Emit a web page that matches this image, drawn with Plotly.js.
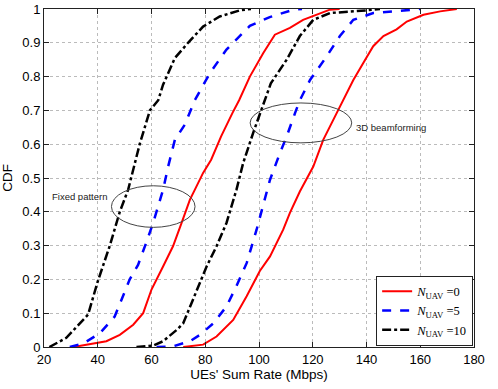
<!DOCTYPE html>
<html>
<head>
<meta charset="utf-8">
<script src="https://cdn.plot.ly/plotly-3.0.1.min.js"></script>
<style>
  html, body { margin: 0; padding: 0; background: #fff; }
  #myDiv { width: 498px; height: 389px; }
</style>
</head>
<body>
<div id="myDiv"></div>
<script>
// fixed antenna pattern curves (left group)
var fixed0X = [31, 38.3, 43.2, 48.2, 53.2, 56.9, 60, 64.3, 68, 71.2, 74.3, 76.1, 79.2, 82.2, 85.9, 90.1, 92.6, 96.6, 101.6, 105.9, 111.5, 116.4, 122.7, 126.4, 130];
var fixed0Y = [0, 0.01, 0.017, 0.036, 0.066, 0.1, 0.17, 0.238, 0.298, 0.367, 0.436, 0.465, 0.515, 0.554, 0.623, 0.692, 0.73, 0.8, 0.87, 0.924, 0.944, 0.968, 0.988, 0.998, 1];

var fixed5X = [29.6, 34.5, 40.7, 46.3, 51.9, 55, 58.1, 60.6, 64.3, 66.2, 68.7, 72.4, 76.1, 81.7, 87.9, 92.9, 96.6, 104, 112.8, 116];
var fixed5Y = [0, 0.01, 0.04, 0.09, 0.2, 0.243, 0.31, 0.367, 0.465, 0.534, 0.613, 0.658, 0.73, 0.81, 0.88, 0.92, 0.95, 0.976, 0.998, 1];

var fixed10X = [22, 28.3, 36.4, 40, 44.5, 48.2, 51.3, 55.6, 59.4, 62.5, 64.3, 68.7, 73.6, 79.2, 85.4, 92.9, 97];
var fixed10Y = [0, 0.027, 0.096, 0.194, 0.3, 0.4, 0.465, 0.6, 0.7, 0.73, 0.776, 0.855, 0.9, 0.948, 0.978, 0.996, 1];

// 3D beamforming curves (right group)
var bf0X = [71.8, 79.2, 84.2, 90.4, 95.4, 100.3, 104.1, 109, 111.5, 115.2, 120.2, 123.9, 128.9, 131.4, 135.1, 138.8, 142.5, 146.3, 151.2, 155, 161.2, 167.4, 173.6];
var bf0Y = [0, 0.007, 0.031, 0.08, 0.15, 0.225, 0.268, 0.347, 0.397, 0.46, 0.534, 0.613, 0.692, 0.73, 0.79, 0.84, 0.89, 0.92, 0.94, 0.963, 0.983, 0.993, 1];

var bf5X = [61.9, 68, 74.3, 78, 83, 87.9, 91.6, 95.4, 99.1, 101, 104.1, 107.8, 110.3, 113.4, 115.2, 119, 125.2, 130.1, 135.1, 142.5, 155, 160];
var bf5Y = [0, 0.002, 0.017, 0.036, 0.07, 0.12, 0.18, 0.248, 0.347, 0.406, 0.495, 0.574, 0.623, 0.692, 0.73, 0.79, 0.86, 0.92, 0.968, 0.988, 0.998, 1];

var bf10X = [54.4, 60.6, 64.3, 69.3, 71.8, 75.5, 78, 80.5, 84.2, 87.9, 91.6, 94.1, 97.8, 101, 104.4, 110.3, 115.2, 120.2, 126.4, 140, 145];
var bf10Y = [0, 0.004, 0.017, 0.05, 0.07, 0.14, 0.19, 0.238, 0.298, 0.367, 0.465, 0.544, 0.633, 0.702, 0.78, 0.85, 0.92, 0.968, 0.988, 0.996, 1];

var names = ['<i>N</i><sub>UAV</sub> =0', '<i>N</i><sub>UAV</sub> =5', '<i>N</i><sub>UAV</sub> =10'];
var colors = ['#ff0000', '#0000ff', '#000000'];
var dashes = ['solid', 'dash', 'dashdot'];

var groups = [[fixed0X, fixed0Y], [fixed5X, fixed5Y], [fixed10X, fixed10Y]];
var groups3d = [[bf0X, bf0Y], [bf5X, bf5Y], [bf10X, bf10Y]];

var data = [];
for (var i = 0; i < 3; i++) {
  data.push({
    x: groups[i][0], y: groups[i][1], type: 'scatter', mode: 'lines',
    name: names[i], legendgroup: 'g' + i,
    line: {color: colors[i], dash: dashes[i], width: i == 0 ? 2 : 2.5}
  });
}
for (var i = 0; i < 3; i++) {
  data.push({
    x: groups3d[i][0], y: groups3d[i][1], type: 'scatter', mode: 'lines',
    name: names[i], legendgroup: 'g' + i, showlegend: false,
    line: {color: colors[i], dash: dashes[i], width: i == 0 ? 2 : 2.5}
  });
}

var axisStyle = {
  showline: true, linecolor: '#222', linewidth: 1, mirror: 'ticks',
  ticks: 'inside', ticklen: 5, tickcolor: '#222',
  showgrid: true, gridcolor: '#bbb', griddash: 'dot', gridwidth: 1,
  zeroline: false, tickfont: {size: 13, color: '#000'}
};

var layout = {
  width: 498, height: 389,
  margin: {l: 44, r: 24, t: 9, b: 42},
  font: {family: 'Liberation Sans, Arial, sans-serif', color: '#000'},
  plot_bgcolor: '#fff', paper_bgcolor: '#fff',
  xaxis: Object.assign({}, axisStyle, {
    range: [20, 180], tickvals: [20, 40, 60, 80, 100, 120, 140, 160, 180],
    title: {text: "UEs' Sum Rate (Mbps)", font: {size: 13.5}, standoff: 2}
  }),
  yaxis: Object.assign({}, axisStyle, {
    range: [0, 1], tickvals: [0, 0.1, 0.2, 0.3, 0.4, 0.5, 0.6, 0.7, 0.8, 0.9, 1],
    ticktext: ['0', '0.1', '0.2', '0.3', '0.4', '0.5', '0.6', '0.7', '0.8', '0.9', '1'],
    title: {text: 'CDF', font: {size: 13.5}, standoff: 6}
  }),
  legend: {
    x: 0.998, y: 0.004, xanchor: 'right', yanchor: 'bottom',
    bgcolor: '#fff', bordercolor: '#222', borderwidth: 1,
    font: {family: 'Liberation Serif, Times New Roman, serif', size: 12.5},
    tracegroupgap: 0, itemwidth: 30
  },
  shapes: [
    {type: 'circle', xref: 'x', yref: 'y', x0: 45.1, x1: 76.2, y0: 0.354, y1: 0.477,
     line: {color: '#444', width: 1}},
    {type: 'circle', xref: 'x', yref: 'y', x0: 96.7, x1: 134.5, y0: 0.604, y1: 0.722,
     line: {color: '#444', width: 1}}
  ],
  annotations: [
    {x: 22.2, y: 0.445, xref: 'x', yref: 'y', xanchor: 'left', text: 'Fixed pattern',
     showarrow: false, font: {size: 9.5, color: '#222'}},
    {x: 135.4, y: 0.648, xref: 'x', yref: 'y', xanchor: 'left', text: '3D beamforming',
     showarrow: false, font: {size: 9.5, color: '#222'}}
  ],
  showlegend: true
};

Plotly.newPlot('myDiv', data, layout, {displayModeBar: false});
</script>
</body>
</html>
